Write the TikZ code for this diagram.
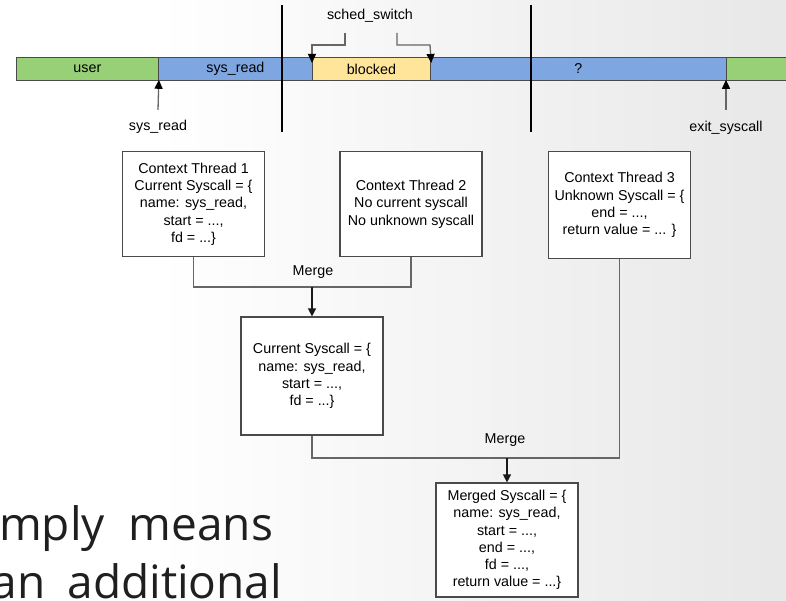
\documentclass[tikz,border=0pt]{standalone}
\usepackage{fontspec}
\setmainfont{Liberation Sans}
\newfontfamily\bigfont{Open Sans}
\usetikzlibrary{arrows.meta}
\definecolor{bargreen}{HTML}{97D077}
\definecolor{barblue}{HTML}{7EA6E0}
\definecolor{baryellow}{HTML}{FFE599}
\definecolor{edgegray}{HTML}{4A4A4A}
\definecolor{linegray}{HTML}{666666}
\pgfdeclarehorizontalshading{bgshade}{100bp}{color(0bp)=(white); color(35bp)=(white); color(100bp)=(black!15)}
\tikzset{
  dfont/.style={font=\fontsize{14.3}{17.3}\selectfont},
  seg/.style={dfont, draw=edgegray, line width=0.8pt, inner sep=0pt, minimum height=23pt, anchor=north west},
  box/.style={dfont, draw=edgegray, line width=1.2pt, fill=white, align=center, inner sep=2pt, minimum width=142pt},
  conn/.style={draw=linegray, line width=1.3pt},
  arr/.style={draw=black!90, line width=1.4pt, -{Triangle[length=8pt,width=8pt]}},
  tickarr/.style={draw=linegray, line width=1.3pt, -{Triangle[length=9pt,width=8pt,fill=black,color=black]}},
  divider/.style={draw=black, line width=2pt},
  lbl/.style={dfont, inner sep=1pt},
  bigtext/.style={font=\bigfont\fontsize{46}{50}\selectfont, text=black!88, inner sep=0pt, anchor=base west}
}
\begin{document}
\begin{tikzpicture}[x=1pt,y=-1pt]
\useasboundingbox (0,0) rectangle (786,601);
\clip (0,0) rectangle (786,601);
\shade[shading=bgshade] (0,0) rectangle (786,601);

% timeline
\node[seg, fill=bargreen, minimum width=142pt] (user) at (16,57) {user};
\node[seg, fill=barblue, minimum width=154pt] (sysread) at (158,57) {sys\_read};
\node[seg, fill=baryellow, minimum width=118pt] (blocked) at (312,57) {blocked};
\node[seg, fill=barblue, minimum width=296pt] (unknown) at (430,57) {?};
\node[seg, fill=bargreen, minimum width=80pt] (tail) at (726,57) {};

% dividers
\coordinate (d1t) at (282,5); \coordinate (d1b) at (282,132);
\coordinate (d2t) at (531,5); \coordinate (d2b) at (531,132);
\draw[divider] (d1t) -- (d1b);
\draw[divider] (d2t) -- (d2b);

% sched_switch
\node[lbl] (ss) at (370,16) {sched\_switch};
\coordinate (s1) at (345,33);
\coordinate (s2) at (397,33);
\draw[tickarr, shorten >=-6pt] (s1) -- (345,45) -- (312,45) -- (blocked.north west);
\draw[tickarr, shorten >=-6pt] (s2) -- (397,45) -- (430,45) -- (blocked.north east);

% sys_read / exit_syscall
\node[lbl] (lsys) at (158,127) {sys\_read};
\node[lbl] (lexit) at (726,128) {exit\_syscall};
\coordinate (a1) at (158,110);
\coordinate (a2) at (726,110);
\draw[tickarr, shorten >=-1pt] (a1) -- (user.south east);
\draw[tickarr, shorten >=-1pt] (a2) -- (tail.south west);

% boxes
\node[box, minimum height=105pt] (ct1) at (193.5,204.2) {Context Thread 1\\Current Syscall = \{\\name: sys\_read,\\start = ...,\\fd = ...\}};
\node[box, minimum height=105pt] (ct2) at (411,204.2) {Context Thread 2\\No current syscall\\No unknown syscall};
\node[box, minimum height=106.6pt] (ct3) at (619.5,205) {Context Thread 3\\Unknown Syscall = \{\\end = ...,\\return value = ... \}};
\node[box, minimum height=118pt] (cur) at (312,376) {Current Syscall = \{\\name: sys\_read,\\start = ...,\\fd = ...\}};
\node[box, minimum height=114pt] (merged) at (507,540) {Merged Syscall = \{\\name: sys\_read,\\start = ...,\\end = ...,\\fd = ...,\\return value = ...\}};

% merges
\coordinate (m1) at (313,287);
\coordinate (m2) at (507,458);
\draw[conn] (ct1.south) |- (ct2.south |- m1) -- (ct2.south);
\draw[arr] (cur.north |- m1) -- (cur.north);
\node[lbl] (mg1) at (313,272) {Merge};
\draw[conn] (cur.south) |- (ct3.south |- m2) -- (ct3.south);
\draw[arr] (merged.north |- m2) -- (merged.north);
\node[lbl] (mg2) at (505,440) {Merge};

% slide text (justified lines, cut at the left edge)
\node[bigtext] (t1) at (-1,540.5) {\makebox[274pt][s]{mply means}};
\node[bigtext] (t2) at (-8.5,598) {\makebox[290.5pt][s]{an additional}};
\end{tikzpicture}
\end{document}
